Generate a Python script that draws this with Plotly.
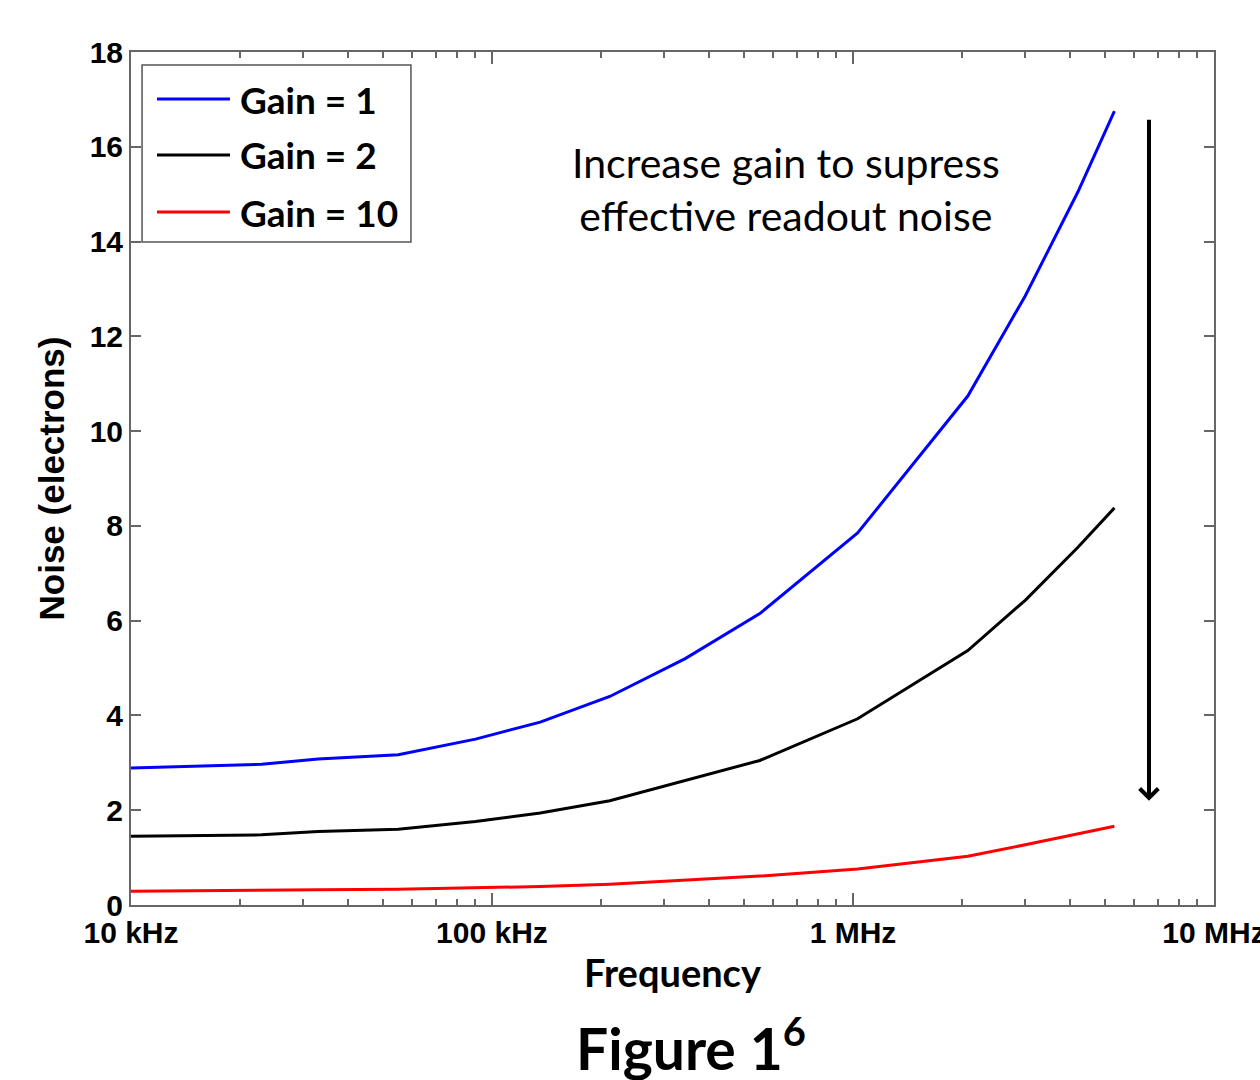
import plotly.graph_objects as go

# ---- data ----
freq_hz = [10e3, 23e3, 33e3, 55e3, 90e3, 136e3, 212e3, 343e3, 552e3, 1.03e6, 2.08e6, 3.0e6, 4.2e6, 5.3e6]
noise_gain1 = [2.89, 2.97, 3.08, 3.17, 3.50, 3.86, 4.40, 5.20, 6.15, 7.85, 10.74, 12.85, 15.05, 16.75]
noise_gain2 = [1.45, 1.48, 1.55, 1.60, 1.76, 1.94, 2.20, 2.62, 3.05, 3.93, 5.37, 6.43, 7.55, 8.38]
noise_gain10 = [0.29, 0.30, 0.32, 0.33, 0.36, 0.39, 0.44, 0.52, 0.61, 0.76, 1.03, 1.27, 1.50, 1.66]

series_names = ["Gain = 1", "Gain = 2", "Gain = 10"]
series_colors = ["#0000FF", "#000000", "#FF0000"]
series_values = [noise_gain1, noise_gain2, noise_gain10]

x_tickvals = [1e4, 1e5, 1e6, 1e7]
x_ticktext = ["10 kHz", "100 kHz", "1 MHz", "10 MHz"]
y_tickvals = [0, 2, 4, 6, 8, 10, 12, 14, 16, 18]

AXIS_FONT = "Liberation Sans, Arial, sans-serif"
TEXT_FONT = "Lato, Open Sans, sans-serif"

fig = go.Figure()
for name, color, vals in zip(series_names, series_colors, series_values):
    fig.add_trace(go.Scatter(x=freq_hz, y=vals, mode="lines", name=name,
                             line=dict(color=color, width=3), showlegend=False))

# arrow
fig.add_annotation(x=6.82, y=2.2, ax=6.82, ay=16.6, xref="x", yref="y",
                   axref="x", ayref="y", text="", showarrow=True,
                   arrowhead=4, arrowsize=0.9, arrowwidth=4, arrowcolor="black")

# text annotation
fig.add_annotation(x=0.605, y=0.839, xref="paper", yref="paper",
                   text="Increase gain to supress<br>effective readout noise",
                   showarrow=False, xanchor="center", yanchor="middle",
                   font=dict(family=TEXT_FONT, size=41, color="black"))

# figure caption
fig.add_annotation(x=0.517, y=-0.163, xref="paper", yref="paper",
                   text="<b>Figure 1<sup>6</sup></b>",
                   showarrow=False, xanchor="center", yanchor="middle",
                   font=dict(family=TEXT_FONT, size=57, color="black"))

# manual legend
fig.add_shape(type="rect", xref="paper", yref="paper",
              x0=0.0102, x1=0.2585, y0=0.7773, y1=0.9848,
              line=dict(color="#555555", width=1.5), fillcolor="white", layer="below")
legend_rows = [0.9449, 0.8793, 0.8124]
for name, color, yy in zip(series_names, series_colors, legend_rows):
    fig.add_shape(type="line", xref="paper", yref="paper",
                  x0=0.024, x1=0.0914, y0=yy, y1=yy,
                  line=dict(color=color, width=3))
    fig.add_annotation(x=0.0988, y=yy, xref="paper", yref="paper", text="<b>%s</b>" % name,
                       showarrow=False, xanchor="left", yanchor="middle",
                       font=dict(family=TEXT_FONT, size=37, color="black"))

fig.update_layout(
    width=1260, height=1080,
    margin=dict(l=131, r=46, t=52, b=175),
    paper_bgcolor="white", plot_bgcolor="white",
    showlegend=False,
)
fig.update_xaxes(type="log", range=[4, 7.0001], tickvals=x_tickvals, ticktext=x_ticktext,
                 ticklabeloverflow="allow", automargin=False,
                 ticks="inside", ticklen=12, tickwidth=1.5, tickcolor="#666666",
                 showline=True, linecolor="#666666", linewidth=2, mirror="allticks",
                 showgrid=False, zeroline=False,
                 minor=dict(ticks="inside", ticklen=6, tickwidth=1.5, tickcolor="#666666",
                            dtick="D1", showgrid=False),
                 tickfont=dict(family=AXIS_FONT, size=30, color="black", weight="bold"),
                 title=dict(text="<b>Frequency</b>", standoff=12,
                            font=dict(family=TEXT_FONT, size=38, color="black")))
fig.update_yaxes(range=[0, 18], tickvals=y_tickvals,
                 ticks="inside", ticklen=10, tickwidth=1.5, tickcolor="#666666",
                 showline=True, linecolor="#666666", linewidth=2, mirror="allticks",
                 showgrid=False, zeroline=False,
                 tickfont=dict(family=AXIS_FONT, size=30, color="black", weight="bold"),
                 title=dict(text="<b>Noise (electrons)</b>", standoff=14,
                            font=dict(family=AXIS_FONT, size=35, color="black")))

fig.write_html("out.html")
